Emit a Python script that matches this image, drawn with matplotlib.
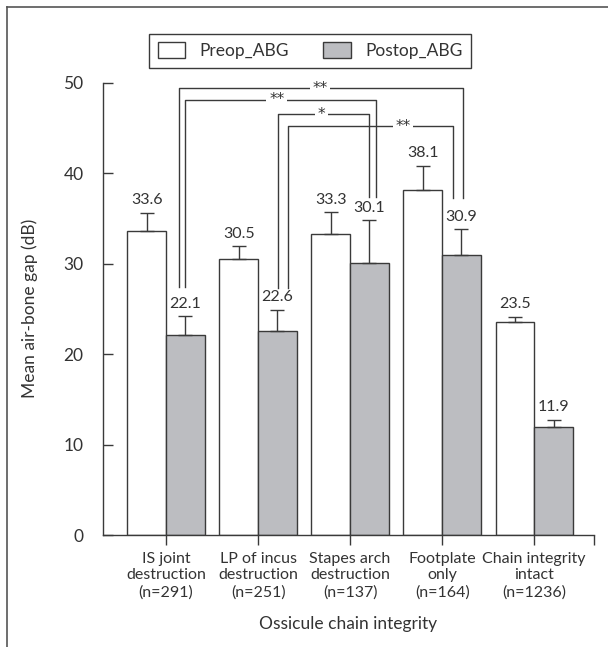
import matplotlib
matplotlib.use("Agg")
import matplotlib.pyplot as plt
from matplotlib.patches import Patch
from matplotlib.lines import Line2D
import numpy as np

plt.rcParams['font.family'] = ['Lato', 'DejaVu Sans']

categories = ["IS joint\ndestruction\n(n=291)", "LP of incus\ndestruction\n(n=251)",
              "Stapes arch\ndestruction\n(n=137)", "Footplate\nonly\n(n=164)",
              "Chain integrity\nintact\n(n=1236)"]
preop = [33.6, 30.5, 33.3, 38.1, 23.5]
postop = [22.1, 22.6, 30.1, 30.9, 11.9]
preop_err = [2.0, 1.4, 2.4, 2.7, 0.65]
postop_err = [2.1, 2.3, 4.7, 2.9, 0.85]
preop_labels = ["33.6", "30.5", "33.3", "38.1", "23.5"]
postop_labels = ["22.1", "22.6", "30.1", "30.9", "11.9"]

# significance comparisons between postop bars (group indices)
comp_left = [0, 0, 1, 1]
comp_right = [3, 2, 2, 3]
comp_labels = ["**", "**", "*", "**"]

EDGE = "#3a3a3a"
GRAY = "#bcbdc1"
TXT = "#333333"

fig = plt.figure(figsize=(6.08, 6.47), dpi=100)
ax = fig.add_axes([103/608, 1-535/647, (594-103)/608, (535-82.7)/647])

x = np.arange(len(categories))
w = 0.42
ax.bar(x - w/2, preop, w, color="white", edgecolor=EDGE, linewidth=1.0, zorder=2)
ax.bar(x + w/2, postop, w, color=GRAY, edgecolor=EDGE, linewidth=1.0, zorder=2)
ax.errorbar(x - w/2, preop, yerr=[np.zeros(5), preop_err], fmt="none", ecolor=EDGE,
            elinewidth=1.0, capsize=5, capthick=1.0, zorder=3)
ax.errorbar(x + w/2, postop, yerr=[np.zeros(5), postop_err], fmt="none", ecolor=EDGE,
            elinewidth=1.0, capsize=5, capthick=1.0, zorder=3)

for xi, v, e, lab in zip(x - w/2, preop, preop_err, preop_labels):
    ax.annotate(lab, (xi, v + e), xytext=(0, 4), textcoords="offset points",
                ha="center", va="bottom", fontsize=11.5, color=TXT)
for xi, v, e, lab in zip(x + w/2, postop, postop_err, postop_labels):
    ax.annotate(lab, (xi, v + e), xytext=(0, 4), textcoords="offset points",
                ha="center", va="bottom", fontsize=11.5, color=TXT)

# brackets geometry
br_tops = [49.4, 48.1, 46.5, 45.2]
left_off = [-0.065, 0.0, 0.01, 0.12]
right_off = [0.02, 0.07, -0.01, -0.09]
left_bottom = [27.4, 27.4, 27.3, 27.3]
right_bottom = [37.3, 37.35, 37.35, 37.2]
label_x = [1.674, 1.203, 1.69, 2.576]
for i in range(4):
    xl = comp_left[i] + w/2 + left_off[i]
    xr = comp_right[i] + w/2 + right_off[i]
    ax.plot([xl, xl, xr, xr], [left_bottom[i], br_tops[i], br_tops[i], right_bottom[i]],
            color=EDGE, lw=1.0, clip_on=False, zorder=4)
    ax.text(label_x[i], br_tops[i], comp_labels[i], ha="center", va="center",
            fontsize=11, family="DejaVu Sans", color=TXT, zorder=5,
            bbox=dict(facecolor="white", edgecolor="none", pad=2.0))

ax.set_xlim(-0.685, 4.65)
ax.set_ylim(0, 50)
ax.set_yticks([0, 10, 20, 30, 40, 50])
ax.set_xticks(x)
ax.set_xticklabels(categories, fontsize=11.5, color=TXT, linespacing=1.25)
ax.tick_params(axis="y", direction="in", length=7, width=1.0, color=EDGE,
               labelsize=12.5, labelcolor=TXT, pad=14)
ax.tick_params(axis="x", direction="out", length=7, width=1.0, color=EDGE, pad=5)
ax.set_xticks([4.65], minor=True)
ax.tick_params(axis="x", which="minor", direction="out", length=7, width=1.0, color=EDGE)
for s in ["top", "right"]:
    ax.spines[s].set_visible(False)
for s in ["left", "bottom"]:
    ax.spines[s].set_color(EDGE)
    ax.spines[s].set_linewidth(1.0)

ax.set_ylabel("Mean air-bone gap (dB)", fontsize=12.5, color=TXT, labelpad=18)
ax.set_xlabel("Ossicule chain integrity", fontsize=12.5, color=TXT, labelpad=12)

handles = [Patch(facecolor="white", edgecolor=EDGE, linewidth=1.0),
           Patch(facecolor=GRAY, edgecolor=EDGE, linewidth=1.0)]
leg = fig.legend(handles, ["Preop_ABG", "Postop_ABG"], loc="upper center",
                 bbox_to_anchor=(310/608, 1-25/647), ncol=2, fancybox=False,
                 edgecolor=EDGE, fontsize=12.5, handlelength=1.6, handleheight=1.0,
                 columnspacing=2.0, handletextpad=0.8, borderpad=0.5, framealpha=1)
leg.get_frame().set_linewidth(1.0)
for t in leg.get_texts():
    t.set_color(TXT)

# outer frame (left and top)
fig.add_artist(Line2D([7/608, 7/608], [0, 1-7/647], color="#555555", lw=1.2, transform=fig.transFigure))
fig.add_artist(Line2D([7/608, 1], [1-7/647, 1-7/647], color="#555555", lw=1.2, transform=fig.transFigure))

fig.savefig("out.png", dpi=100)
